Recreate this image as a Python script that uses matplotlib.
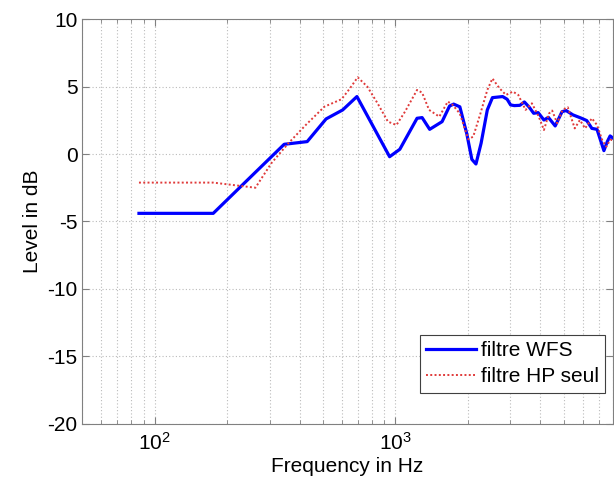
import numpy as np
import matplotlib.pyplot as plt
from matplotlib.ticker import LogLocator, NullFormatter, FixedLocator

plt.rcParams['font.family'] = ['Liberation Sans', 'DejaVu Sans']
plt.rcParams['axes.unicode_minus'] = False

# filtre WFS (ligne bleue)
f_wfs = [86, 175, 345, 430, 515, 604, 692, 946, 1043, 1230, 1291, 1388, 1563,
         1679, 1746, 1852, 1978, 2078, 2161, 2270, 2409, 2530, 2790, 2912, 3010,
         3118, 3289, 3434, 3597, 3754, 3917, 4141, 4318, 4612, 4924, 5120, 5467,
         5934, 6236, 6550, 6880, 7110, 7350, 7593, 7800, 8050]
db_wfs = [-4.4, -4.4, 0.72, 0.92, 2.6, 3.27, 4.26, -0.2, 0.35, 2.65, 2.7, 1.83, 2.4,
          3.56, 3.7, 3.5, 1.53, -0.4, -0.74, 0.8, 3.27, 4.18, 4.26, 4.06, 3.64,
          3.59, 3.61, 3.86, 3.47, 3.02, 3.07, 2.52, 2.72, 2.08, 3.14, 3.22, 2.9,
          2.65, 2.48, 1.9, 1.83, 1.04, 0.25, 0.92, 1.34, 1.16]

# filtre HP seul (pointillés rouges)
f_hp = [86, 175, 262, 305, 359, 424, 507, 597, 648, 697, 764, 843, 931, 1010,
        1096, 1230, 1291, 1380, 1522, 1651, 1730, 1852, 2009, 2105, 2255, 2409,
        2530, 2704, 2880, 3076, 3240, 3474, 3690, 3941, 4141, 4345, 4480, 4700,
        4950, 5200, 5560, 5840, 6140, 6550, 6880, 7230, 7520, 7800, 8050]
db_hp = [-2.12, -2.12, -2.5, -0.69, 0.79, 2.15, 3.51, 4.06, 4.88, 5.69, 5.0, 3.76,
         2.4, 2.15, 3.14, 4.75, 4.55, 3.27, 2.77, 3.89, 3.64, 3.0, 1.09, 1.29,
         3.0, 4.75, 5.6, 4.88, 4.38, 4.63, 4.38, 3.27, 3.76, 2.77, 1.78, 3.0,
         3.22, 2.28, 3.27, 3.47, 1.9, 2.52, 1.9, 2.65, 2.15, 1.04, 0.54, 1.04, 1.04]

y_ticks = [-20, -15, -10, -5, 0, 5, 10]

fig = plt.figure(figsize=(6.14, 4.91), dpi=100)
ax = fig.add_axes([0.134, 0.137, 0.864, 0.824])

ax.semilogx(f_wfs, db_wfs, color='#0000ff', lw=2.3, label='filtre WFS')
ax.semilogx(f_hp, db_hp, color='#e03a3a', lw=1.4, ls=(0, (1, 1.2)), label='filtre HP seul')

ax.set_xlim(50, 8000)
ax.set_ylim(-20, 10)
ax.set_yticks(y_ticks)
ax.xaxis.set_major_locator(FixedLocator([100, 1000]))
ax.xaxis.set_minor_locator(LogLocator(base=10, subs=np.arange(2, 10)))
ax.xaxis.set_minor_formatter(NullFormatter())
ax.grid(True, which='both', axis='x', color='#bbbbbb', ls=(0, (1, 2)), lw=0.8)
ax.grid(True, which='major', axis='y', color='#bbbbbb', ls=(0, (1, 2)), lw=0.8)

ax.tick_params(which='both', direction='in', labelsize=15, top=True, right=True,
               color='#808080')
ax.tick_params(which='major', length=5)
ax.tick_params(which='minor', length=3)
ax.tick_params(axis='x', pad=6)
for s in ax.spines.values():
    s.set_color('#808080')

ax.set_xlabel('Frequency in Hz', fontsize=15, labelpad=2)
ax.set_ylabel('Level in dB', fontsize=15)

leg = ax.legend(loc='lower right', bbox_to_anchor=(0.985, 0.077), fontsize=15,
                fancybox=False, framealpha=1, edgecolor='#404040',
                handlelength=2.4, handletextpad=0.2, borderaxespad=0.0,
                labelspacing=0.35, borderpad=0.3)
leg.get_frame().set_linewidth(0.8)

fig.savefig('out.png', dpi=100)
